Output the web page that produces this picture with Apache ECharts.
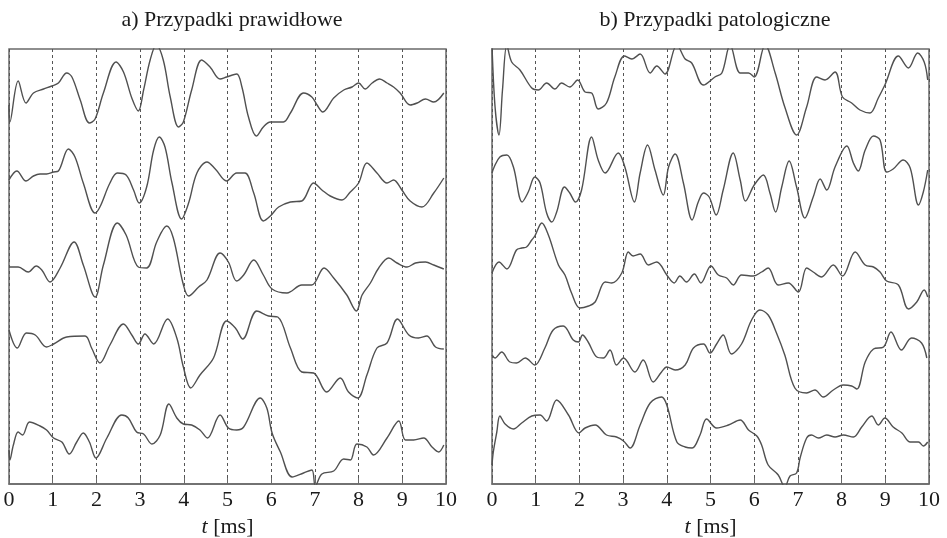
<!DOCTYPE html>
<html>
<head>
<meta charset="utf-8">
<script src="https://cdn.jsdelivr.net/npm/echarts@6/dist/echarts.min.js"></script>
<style>
html,body{margin:0;padding:0;background:#fff;}
#chart{width:947px;height:538px;}
</style>
</head>
<body>
<div id="chart"></div>
<script>
// Panel titles
const panelTitles = ['a) Przypadki prawidłowe', 'b) Przypadki patologiczne'];
const axisName = '{i|t} [ms]';

// Trace offsets (stacking, amplitude units from bottom of the panel)
const offsetsA = [389, 304, 216, 144, 44];
const offsetsB = [394, 304, 214, 124, 44];

// a) normal cases : [time ms, amplitude]
const a1 = [[0,-10],[0.02,-27],[0.21,14],[0.39,-8],[0.56,2],[0.79,6],[0.98,9],[1.13,12],[1.32,22],[1.44,18],[1.63,-5],[1.84,-28],[1.97,-24],[2.16,2],[2.45,33],[2.62,23],[2.81,-3],[2.96,-16],[3.08,5],[3.23,35],[3.37,50],[3.53,35],[3.69,-2],[3.88,-32],[3.99,-27],[4.18,5],[4.41,35],[4.60,28],[4.83,16],[4.98,18],[5.21,21],[5.33,8],[5.48,-22],[5.66,-41],[5.82,-32],[5.98,-27],[6.28,-27],[6.44,-18],[6.74,2],[6.93,-2],[7.05,-10],[7.18,-17],[7.43,-3],[7.66,5],[7.85,8],[8.0,12],[8.15,6],[8.31,12],[8.48,16],[8.65,12],[8.80,8],[8.95,2],[9.18,-10],[9.34,-8],[9.53,-4],[9.72,-7],[9.95,2]];
const a2 = [[0,0],[0.18,9],[0.39,-1],[0.56,4],[0.71,6],[0.86,6],[1.02,8],[1.13,9],[1.36,31],[1.51,23],[1.70,-3],[1.97,-33],[2.08,-27],[2.31,-3],[2.48,7],[2.68,5],[2.85,-10],[2.98,-23],[3.15,-7],[3.31,30],[3.44,43],[3.57,33],[3.73,-3],[3.95,-39],[4.11,-23],[4.30,7],[4.53,18],[4.72,11],[4.98,-1],[5.21,7],[5.40,7],[5.60,-13],[5.82,-41],[5.98,-36],[6.17,-27],[6.44,-22],[6.70,-21],[6.97,-3],[7.16,-10],[7.35,-16],[7.62,-20],[7.81,-12],[8.0,-3],[8.19,17],[8.42,7],[8.65,-3],[8.80,0],[8.99,-10],[9.18,-21],[9.45,-27],[9.72,-13],[9.95,2]];
const a3 = [[0,1],[0.21,1],[0.44,-4],[0.62,2],[0.75,-2],[0.94,-14],[1.17,0],[1.49,26],[1.70,3],[1.97,-29],[2.16,3],[2.48,45],[2.68,33],[2.96,1],[3.15,0],[3.38,26],[3.61,42],[3.76,30],[3.98,-15],[4.11,-28],[4.34,-19],[4.53,-12],[4.83,15],[5.02,6],[5.21,-13],[5.37,-7],[5.60,8],[5.82,-7],[6.02,-21],[6.36,-25],[6.70,-17],[6.93,-17],[7.21,0],[7.43,-10],[7.73,-27],[7.95,-43],[8.08,-27],[8.27,-15],[8.46,0],[8.69,10],[8.88,5],[9.11,1],[9.30,5],[9.53,6],[9.72,3],[9.95,-1]];
const a4 = [[0,10],[0.19,-8],[0.40,7],[0.60,5],[0.86,-7],[1.02,-4],[1.32,3],[1.74,4],[1.89,-8],[2.08,-23],[2.31,-5],[2.62,16],[2.81,5],[2.96,-4],[3.11,6],[3.31,-4],[3.63,21],[3.84,2],[3.99,-27],[4.16,-48],[4.37,-35],[4.68,-18],[4.98,19],[5.18,12],[5.35,1],[5.67,29],[5.94,24],[6.15,23],[6.44,-8],[6.70,-32],[6.97,-33],[7.27,-52],[7.58,-38],[7.77,-52],[7.98,-58],[8.19,-35],[8.42,-8],[8.65,-3],[8.89,21],[9.15,5],[9.37,2],[9.56,4],[9.76,-7],[9.95,-9]];
const a5 = [[0,-10],[0.02,-20],[0.10,-5],[0.21,8],[0.31,5],[0.47,18],[0.71,14],[0.86,10],[1.02,2],[1.21,-2],[1.38,-14],[1.55,-2],[1.70,7],[1.84,-2],[1.99,-18],[2.24,2],[2.58,25],[2.73,22],[2.92,8],[3.08,6],[3.27,-4],[3.46,5],[3.66,36],[3.84,22],[3.99,16],[4.18,15],[4.37,10],[4.54,2],[4.83,25],[5.02,12],[5.21,10],[5.37,13],[5.75,42],[5.90,32],[6.02,7],[6.21,-12],[6.48,-37],[6.74,-33],[6.93,-30],[7.01,-46],[7.16,-34],[7.43,-31],[7.66,-19],[7.81,-20],[7.96,-4],[8.19,-7],[8.34,-15],[8.65,2],[8.92,19],[9.07,0],[9.26,0],[9.49,2],[9.68,-7],[9.83,-12],[9.95,-5]];

// b) pathological cases
const b1 = [[0,45],[0.07,-17],[0.16,-45],[0.24,0],[0.34,45],[0.45,28],[0.64,20],[0.91,2],[1.06,0],[1.25,7],[1.44,1],[1.59,7],[1.78,3],[1.96,10],[2.13,-2],[2.28,-3],[2.43,-19],[2.62,-13],[2.81,13],[3.03,34],[3.20,31],[3.39,36],[3.62,17],[3.77,24],[3.96,16],[4.23,45],[4.42,31],[4.57,27],[4.84,5],[5.10,13],[5.26,17],[5.45,45],[5.68,17],[5.87,17],[6.0,13],[6.25,45],[6.48,17],[6.70,-17],[6.97,-45],[7.20,-17],[7.43,13],[7.62,10],[7.85,18],[8.02,-7],[8.23,-13],[8.42,-20],[8.65,-23],[8.84,-8],[8.99,5],[9.30,34],[9.53,22],[9.74,37],[9.89,28],[9.97,10]];
const b2 = [[0,7],[0.05,13],[0.18,23],[0.34,25],[0.49,13],[0.69,-22],[0.83,-12],[0.98,3],[1.10,-3],[1.25,-33],[1.37,-42],[1.48,-32],[1.66,-7],[1.78,-13],[1.91,-22],[2.05,-10],[2.28,43],[2.43,20],[2.59,7],[2.89,27],[3.04,13],[3.26,-22],[3.39,7],[3.56,35],[3.73,10],[3.92,-15],[4.04,13],[4.19,26],[4.38,-3],[4.58,-40],[4.72,-22],[4.84,-13],[4.97,-17],[5.13,-35],[5.29,-10],[5.52,27],[5.68,0],[5.80,-21],[6.0,-5],[6.21,5],[6.36,-13],[6.49,-32],[6.63,-7],[6.80,19],[6.97,-7],[7.16,-38],[7.35,-17],[7.51,1],[7.66,-10],[7.85,13],[8.12,34],[8.27,17],[8.38,9],[8.54,30],[8.73,44],[8.88,40],[9.03,8],[9.18,11],[9.41,20],[9.57,12],[9.76,-25],[9.87,-12],[9.97,10]];
const b3 = [[0,-3],[0.16,8],[0.34,1],[0.56,20],[0.68,22],[0.79,23],[0.91,30],[0.98,34],[1.14,47],[1.29,35],[1.52,5],[1.67,-5],[1.82,-23],[2.01,-38],[2.21,-36],[2.36,-32],[2.59,-12],[2.74,-13],[2.97,-3],[3.12,18],[3.23,14],[3.39,16],[3.58,5],[3.77,8],[4.0,-5],[4.17,-13],[4.30,-6],[4.45,-12],[4.63,-4],[4.78,-13],[5.01,4],[5.18,-5],[5.37,-8],[5.52,-15],[5.71,-5],[5.98,-6],[6.17,-2],[6.32,2],[6.55,-15],[6.78,-13],[7.01,-22],[7.20,2],[7.35,-2],[7.54,-7],[7.81,5],[8.02,-6],[8.31,18],[8.54,5],[8.73,3],[8.88,-2],[9.03,-11],[9.30,-15],[9.53,-39],[9.72,-32],[9.89,-20],[9.97,-27]];
const b4 = [[0,5],[0.07,2],[0.22,8],[0.41,-2],[0.56,-3],[0.76,2],[0.98,-5],[1.21,12],[1.40,30],[1.63,34],[1.86,20],[1.98,18],[2.07,25],[2.20,18],[2.40,3],[2.55,2],[2.70,10],[2.85,-5],[3.01,2],[3.27,-12],[3.46,0],[3.69,-22],[3.88,-12],[4.0,-7],[4.19,-10],[4.42,-5],[4.61,12],[4.84,16],[4.99,7],[5.14,16],[5.29,25],[5.48,6],[5.71,16],[5.94,40],[6.13,50],[6.32,45],[6.51,27],[6.70,5],[6.93,-28],[7.20,-33],[7.39,-30],[7.58,-37],[7.81,-30],[8.04,-25],[8.23,-26],[8.35,-29],[8.54,-2],[8.73,11],[8.96,13],[9.13,28],[9.37,10],[9.60,22],[9.83,17],[9.95,2]];
const b5 = [[0,-25],[0.03,-12],[0.11,8],[0.18,24],[0.30,16],[0.49,11],[0.68,17],[0.91,24],[1.10,25],[1.25,19],[1.48,40],[1.75,25],[1.99,7],[2.13,12],[2.36,15],[2.62,5],[2.85,3],[3.01,-1],[3.16,-8],[3.39,15],[3.62,37],[3.88,43],[4.0,35],[4.23,-2],[4.42,-7],[4.58,-8],[4.76,5],[4.91,21],[5.14,12],[5.41,15],[5.68,20],[5.87,10],[6.06,4],[6.17,-5],[6.32,-25],[6.55,-35],[6.70,-47],[6.82,-36],[6.97,-33],[7.05,-18],[7.20,2],[7.31,5],[7.47,2],[7.66,5],[7.85,3],[8.04,5],[8.27,3],[8.46,13],[8.69,24],[8.84,15],[8.99,22],[9.18,13],[9.38,7],[9.57,-2],[9.76,-2],[9.87,-6],[9.97,-2]];

const tracesA = [a1, a2, a3, a4, a5];
const tracesB = [b1, b2, b3, b4, b5];

const SERIF = '"Liberation Serif", "DejaVu Serif", serif';
const FRAME = '#6a6a6a';
const LINE = '#505050';

function makeX(gridIndex) {
  return {
    type: 'value', gridIndex: gridIndex, min: 0, max: 10, interval: 1,
    name: axisName, nameLocation: 'middle', nameGap: 27,
    nameTextStyle: {fontFamily: SERIF, fontSize: 22, color: '#1a1a1a',
      rich: {i: {fontFamily: SERIF, fontSize: 22, fontStyle: 'italic', color: '#1a1a1a'}}},
    axisLine: {show: true, lineStyle: {color: FRAME, width: 1.5}},
    axisTick: {show: true, inside: true, length: 6, lineStyle: {color: FRAME, width: 1}},
    axisLabel: {fontFamily: SERIF, fontSize: 22, color: '#1a1a1a', margin: 5},
    splitLine: {show: true, lineStyle: {color: '#555', width: 1, type: [3, 3]}}
  };
}
function makeY(gridIndex) {
  return {type: 'value', gridIndex: gridIndex, min: 0, max: 435,
    axisLine: {show: false}, axisTick: {show: false}, axisLabel: {show: false}, splitLine: {show: false}};
}

const series = [];
tracesA.forEach((tr, k) => series.push({
  type: 'line', xAxisIndex: 0, yAxisIndex: 0, showSymbol: false, smooth: 0.35, clip: true,
  lineStyle: {color: LINE, width: 1.4}, silent: true,
  data: tr.map(p => [p[0], p[1] + offsetsA[k]])
}));
tracesB.forEach((tr, k) => series.push({
  type: 'line', xAxisIndex: 1, yAxisIndex: 1, showSymbol: false, smooth: 0.35, clip: true,
  lineStyle: {color: LINE, width: 1.4}, silent: true,
  data: tr.map(p => [p[0], p[1] + offsetsB[k]])
}));

const chart = echarts.init(document.getElementById('chart'), null, {renderer: 'canvas'});
chart.setOption({
  backgroundColor: '#fff',
  animation: false,
  title: [
    {text: panelTitles[0], left: 227, top: 4, textAlign: 'center',
     textStyle: {fontFamily: SERIF, fontSize: 22, fontWeight: 'normal', color: '#1a1a1a'}},
    {text: panelTitles[1], left: 710, top: 4, textAlign: 'center',
     textStyle: {fontFamily: SERIF, fontSize: 22, fontWeight: 'normal', color: '#1a1a1a'}}
  ],
  grid: [
    {left: 9, top: 49, width: 437, height: 435, containLabel: false, outerBoundsMode: 'none',
     show: true, borderColor: FRAME, borderWidth: 1.5, backgroundColor: 'transparent'},
    {left: 492, top: 49, width: 437, height: 435, containLabel: false, outerBoundsMode: 'none',
     show: true, borderColor: FRAME, borderWidth: 1.5, backgroundColor: 'transparent'}
  ],
  xAxis: [makeX(0), makeX(1)],
  yAxis: [makeY(0), makeY(1)],
  series: series
});
</script>
</body>
</html>
